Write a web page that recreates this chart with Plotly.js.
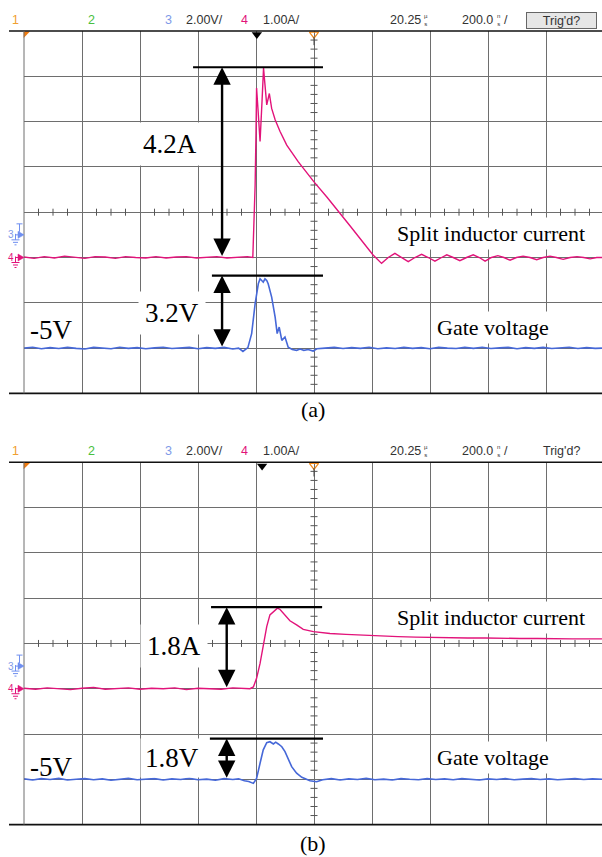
<!DOCTYPE html>
<html>
<head>
<meta charset="utf-8">
<script src="https://cdn.plot.ly/plotly-3.0.1.min.js"></script>
<style>html,body{margin:0;padding:0;background:#fff;}#plot{width:602px;height:857px;}</style>
</head>
<body>
<div id="plot"></div>
<script>
// ---------- DATA (time in ns from left edge of screen; 200 ns/div) ----------
// Panel (a): split inductor current (A, 1 A/div)
const tCurA = [0,35,70,105,140,175,210,245,280,315,350,385,420,455,490,525,560,595,630,665,700,735,770,789,797,800,802,807,814,821,826,831,837,846,854,866,883,906,946,1000,1045,1124,1203,1233,1256,1279,1302,1325,1348,1371,1394,1417,1440,1458,1480,1503,1526,1549,1570,1590,1612,1634,1655,1676,1698,1721,1745,1768,1790,1814,1836,1859,1883,1907,1930,1952,1975,1993];
const iCurA = [0.01,-0.02,0.02,-0.01,0.03,0.0,-0.02,0.02,0.01,-0.02,0.02,0.0,-0.01,0.02,-0.01,0.01,0.02,-0.01,0.01,0.02,-0.01,0.01,0.02,0.0,1.60,2.75,3.74,3.26,2.56,3.48,4.18,3.81,3.37,3.62,3.29,3.04,2.78,2.48,2.11,1.67,1.33,0.70,0.06,-0.13,0.0,0.09,0.0,-0.09,0.0,0.07,0.0,-0.08,0.0,0.06,0.0,-0.07,0.0,0.06,0.0,-0.08,0.0,0.04,0.0,-0.06,0.0,0.03,0.0,-0.05,0.0,0.03,0.0,-0.04,0.0,0.02,0.0,-0.03,0.0,0.0];
// Panel (a): gate voltage (V, 2 V/div)
const tGateA = [0,30,60,90,120,150,180,210,240,270,300,330,360,390,420,450,480,510,540,570,600,630,660,690,720,740,755,772,785,797,808,814,825,831,837,842,854,866,873,880,889,900,911,925,940,952,965,980,997,1010,1038,1070,1100,1130,1160,1190,1220,1250,1280,1310,1340,1370,1400,1430,1460,1490,1520,1550,1580,1610,1640,1670,1700,1730,1760,1790,1820,1850,1880,1910,1940,1970,1993];
const vGateA = [-5.0,-4.96,-5.03,-4.98,-5.02,-4.97,-5.01,-5.04,-4.97,-5.0,-5.03,-4.96,-5.01,-4.98,-5.03,-4.99,-4.96,-5.02,-5.0,-4.97,-5.03,-4.98,-5.01,-4.97,-5.04,-5.0,-5.15,-4.98,-4.36,-3.04,-2.16,-1.94,-2.09,-1.94,-2.01,-2.16,-2.75,-3.63,-4.36,-4.07,-4.66,-4.51,-4.96,-5.06,-5.1,-5.04,-5.1,-5.06,-5.13,-5.03,-5.0,-4.97,-5.02,-4.98,-5.01,-4.96,-5.03,-4.99,-5.02,-4.97,-5.01,-4.98,-5.03,-4.97,-5.0,-5.02,-4.97,-5.01,-4.96,-5.02,-4.99,-4.97,-5.03,-4.98,-5.01,-4.97,-5.02,-4.99,-4.96,-5.02,-4.98,-5.01,-5.0];
// Panel (b): split inductor current
const tCurB = [0,40,80,120,160,200,240,280,320,360,400,440,480,520,560,600,640,680,720,760,779,791,802,814,825,837,848,866,874,883,900,917,940,963,998,1055,1110,1170,1228,1290,1350,1410,1469,1530,1590,1650,1710,1770,1830,1890,1950,1993];
const iCurB = [0.01,-0.01,0.02,0.0,-0.02,0.01,0.03,-0.01,0.0,0.02,-0.01,0.01,0.0,0.02,-0.02,0.01,0.0,-0.01,0.02,0.0,0.0,0.04,0.23,0.56,0.96,1.37,1.63,1.75,1.78,1.75,1.63,1.50,1.41,1.31,1.26,1.22,1.20,1.18,1.16,1.15,1.14,1.13,1.13,1.12,1.12,1.11,1.11,1.11,1.10,1.10,1.10,1.10];
// Panel (b): gate voltage
const tGateB = [0,30,60,90,120,150,180,210,240,270,300,330,360,390,420,450,480,510,540,570,600,630,660,690,720,740,760,775,791,802,814,825,837,848,860,868,877,889,900,911,923,940,958,986,1009,1030,1060,1090,1120,1150,1180,1210,1240,1270,1300,1330,1360,1390,1420,1450,1480,1510,1540,1570,1600,1630,1660,1690,1720,1750,1780,1810,1840,1870,1900,1930,1960,1993];
const vGateB = [-4.98,-5.03,-4.97,-5.01,-4.96,-5.03,-5.0,-4.97,-5.02,-4.98,-5.04,-4.99,-4.96,-5.02,-5.0,-4.97,-5.03,-4.98,-5.01,-4.96,-5.02,-4.99,-5.04,-4.97,-5.01,-4.98,-5.06,-5.1,-5.18,-4.96,-4.29,-3.70,-3.38,-3.34,-3.44,-3.36,-3.44,-3.56,-3.78,-4.07,-4.44,-4.73,-4.91,-5.06,-5.11,-5.02,-4.97,-5.03,-4.98,-5.01,-4.96,-5.02,-4.99,-5.03,-4.97,-5.0,-5.02,-4.97,-5.01,-4.98,-5.02,-4.97,-5.0,-5.03,-4.98,-5.01,-4.97,-5.02,-4.99,-4.97,-5.01,-4.98,-5.02,-4.99,-4.97,-5.01,-4.98,-5.0];

// Annotated peak values
const peakCurA = 4.2, peakGateA = -5 + 3.2;
const peakCurB = 1.8, peakGateB = -5 + 1.8;
const labelsA = {cur: "4.2A", gate: "3.2V", base: "-5V"};
const labelsB = {cur: "1.8A", gate: "1.8V", base: "-5V"};
const header = {ch1: "1", ch2: "2", ch3: "3", v3: "2.00V/", ch4: "4", v4: "1.00A/", pos: "20.25", tb: "200.0", trig: "Trig'd?"};

// ---------- LAYOUT HELPERS ----------
const W = 602, H = 857;
const px = x => x / W;
const py = y => 1 - y / H;
const PINK = '#e2137a', BLUE = '#4668d8', GRID = '#6e6e6e', CH3 = '#6f8ff0';
const XMAX = (W - 24) / 58 * 200;
const DIV = 45.3; // px per vertical division

function xax(anchor) {
  return {domain: [px(24), 1], range: [0, XMAX], anchor: anchor, tick0: 0, dtick: 200,
    showgrid: true, gridcolor: GRID, gridwidth: 1, zeroline: false, showline: false,
    showticklabels: false, ticks: '', fixedrange: true};
}
function yax(dom, anchor) {
  return {domain: dom, range: [-3, 5], anchor: anchor, tick0: 0, dtick: 1,
    showgrid: true, gridcolor: GRID, gridwidth: 1, zeroline: false, showline: false,
    showticklabels: false, ticks: '', fixedrange: true};
}
function yovl(over, anchor) {
  return {overlaying: over, anchor: anchor, range: [-7, 9], visible: false, showgrid: false, zeroline: false, fixedrange: true};
}

const traces = [];
function minorTicks(xa, ya) {
  const hx = [], hy = [], vx = [], vy = [];
  for (let t = 0; t <= XMAX; t += 50) { if (t % 200 !== 0) { hx.push(t); hy.push(1); } }
  for (let k = -15; k <= 25; k++) { if (k % 5 !== 0) { vx.push(1000); vy.push(k / 5); } }
  traces.push({x: hx, y: hy, xaxis: xa, yaxis: ya, mode: 'markers', hoverinfo: 'skip', showlegend: false,
    marker: {symbol: 'line-ns', size: 5, line: {width: 1, color: '#555'}}});
  traces.push({x: vx, y: vy, xaxis: xa, yaxis: ya, mode: 'markers', hoverinfo: 'skip', showlegend: false,
    marker: {symbol: 'line-ew', size: 5, line: {width: 1, color: '#555'}}});
}
function topMarkers(xa, ya, trigT) {
  traces.push({x: [trigT], y: [4.92], xaxis: xa, yaxis: ya, mode: 'markers', hoverinfo: 'skip', showlegend: false, cliponaxis: false,
    marker: {symbol: 'triangle-down', size: 9, color: '#000'}});
  traces.push({x: [1000], y: [4.93], xaxis: xa, yaxis: ya, mode: 'markers', hoverinfo: 'skip', showlegend: false, cliponaxis: false,
    marker: {symbol: 'triangle-down-open', size: 8, color: '#f08a1c', line: {width: 1.2, color: '#f08a1c'}}});
  traces.push({x: [1000], y: [4.78], xaxis: xa, yaxis: ya, mode: 'markers', hoverinfo: 'skip', showlegend: false, cliponaxis: false,
    marker: {symbol: 'line-ns', size: 6, line: {width: 1, color: '#444'}}});
  traces.push({x: [6], y: [4.94], xaxis: xa, yaxis: ya, mode: 'markers', hoverinfo: 'skip', showlegend: false, cliponaxis: false,
    marker: {symbol: 'triangle-nw', size: 7, color: '#f07c10'}});
}

// grid decorations first
minorTicks('x', 'y');
minorTicks('x2', 'y3');
// waveforms
traces.push({x: tCurA, y: iCurA, xaxis: 'x', yaxis: 'y', mode: 'lines', line: {color: PINK, width: 1.4}, hoverinfo: 'skip', showlegend: false});
traces.push({x: tGateA, y: vGateA, xaxis: 'x', yaxis: 'y2', mode: 'lines', line: {color: BLUE, width: 1.6}, hoverinfo: 'skip', showlegend: false});
traces.push({x: tCurB, y: iCurB, xaxis: 'x2', yaxis: 'y3', mode: 'lines', line: {color: PINK, width: 1.4}, hoverinfo: 'skip', showlegend: false});
traces.push({x: tGateB, y: vGateB, xaxis: 'x2', yaxis: 'y4', mode: 'lines', line: {color: BLUE, width: 1.6}, hoverinfo: 'skip', showlegend: false});
topMarkers('x', 'y', 803);
topMarkers('x2', 'y3', 821);

// ---------- SHAPES ----------
const shapes = [];
function frame(ya) {
  const yd = ya + ' domain';
  shapes.push({type: 'line', xref: 'paper', yref: yd, x0: px(9), x1: 1, y0: 1, y1: 1, line: {color: '#111', width: 1.6}});
  shapes.push({type: 'line', xref: 'paper', yref: yd, x0: px(9), x1: 1, y0: 0, y1: 0, line: {color: '#111', width: 1.6}});
  shapes.push({type: 'line', xref: 'paper', yref: yd, x0: px(24), x1: px(24), y0: 0, y1: 1, line: {color: GRID, width: 1}});
}
frame('y'); frame('y3');
function peakLine(xa, ya, x0, x1, y) {
  shapes.push({type: 'line', xref: xa, yref: ya, x0: x0, x1: x1, y0: y, y1: y, line: {color: '#000', width: 2.2}});
}
peakLine('x', 'y', 583, 1031, peakCurA);
peakLine('x', 'y2', 648, 1031, peakGateA);
peakLine('x2', 'y3', 645, 1028, peakCurB);
peakLine('x2', 'y4', 641, 1031, peakGateB);

// channel ground markers (level 0 of each channel), u = data units per pixel
function groundMarker(yref, u, color, withT) {
  const X = v => px(v).toFixed(5);
  const Y = d => (-d * u).toFixed(4); // d pixels below level 0
  shapes.push({type: 'path', xref: 'paper', yref: yref, path: `M${X(18)},${Y(-3.5)} L${X(24)},${Y(0)} L${X(18)},${Y(3.5)} Z`,
    fillcolor: color, line: {color: color, width: 0.5}});
  shapes.push({type: 'path', xref: 'paper', yref: yref,
    path: `M${X(15.5)},${Y(-1)} L${X(15.5)},${Y(5)} M${X(11.5)},${Y(5)} L${X(19.5)},${Y(5)} M${X(13)},${Y(7.5)} L${X(18)},${Y(7.5)} M${X(14.5)},${Y(10)} L${X(16.5)},${Y(10)} M${X(15.5)},${Y(0)} L${X(18)},${Y(0)}`,
    line: {color: color, width: 1}});
  if (withT) {
    shapes.push({type: 'path', xref: 'paper', yref: yref,
      path: `M${X(19.5)},${Y(-3)} L${X(19.5)},${Y(-11)} M${X(16.5)},${Y(-11)} L${X(22.5)},${Y(-11)}`,
      line: {color: color, width: 1}});
  }
}
groundMarker('y2', 2 / DIV, CH3, true);
groundMarker('y', 1 / DIV, PINK, false);
groundMarker('y4', 2 / DIV, CH3, true);
groundMarker('y3', 1 / DIV, PINK, false);

// ---------- ANNOTATIONS ----------
const ann = [];
const SERIF = 'Liberation Serif, Times New Roman, serif';
const SANS = 'Liberation Sans, Arial, sans-serif';
function dblArrow(xa, ya, xv, y0, y1) {
  ann.push({xref: xa, yref: ya, x: xv, y: y1, axref: xa, ayref: ya, ax: xv, ay: y0, text: '', showarrow: true,
    arrowhead: 2, startarrowhead: 2, arrowside: 'end+start', arrowwidth: 2.4, arrowsize: 1.45, startarrowsize: 1.45, arrowcolor: '#000', standoff: 0, startstandoff: 0});
}
dblArrow('x', 'y', 683, 0, peakCurA);
dblArrow('x', 'y2', 683, -5, peakGateA);
dblArrow('x2', 'y3', 699, 0, peakCurB);
dblArrow('x2', 'y4', 699, -5, peakGateB);

function label(text, x, y, size, bg, pad) {
  ann.push({xref: 'paper', yref: 'paper', x: px(x), y: py(y), xanchor: 'center', yanchor: 'middle', text: text, showarrow: false,
    font: {family: SERIF, size: size, color: '#000'}, bgcolor: bg ? '#fff' : 'rgba(0,0,0,0)', borderpad: pad || 0});
}
label(labelsA.cur, 170, 144, 27, true, 6);
label(labelsA.gate, 172, 313, 27, true, 6);
label(labelsA.base, 51, 330, 27, false);
label('Split inductor current', 491, 233, 22, true, 3);
label('Gate voltage', 493, 328, 22, true, 3);
label('(a)', 313, 410, 22, false);
label(labelsB.cur, 174, 646, 27, true, 6);
label(labelsB.gate, 172, 758, 27, true, 4);
label(labelsB.base, 51, 767, 27, false);
label('Split inductor current', 491, 617, 22, true, 3);
label('Gate voltage', 493, 757, 22, true, 3);
label('(b)', 313, 843, 22, false);

function htext(t, x, yc, c, anchor, size) {
  ann.push({xref: 'paper', yref: 'paper', x: px(x), y: py(yc), xanchor: anchor, yanchor: 'middle', text: t, showarrow: false,
    font: {family: SANS, size: size, color: c}, borderpad: 0});
}
function headerRow(yc, boxed) {
  htext(header.ch1, 15.5, yc, '#f0a030', 'center', 12.5);
  htext(header.ch2, 91.5, yc, '#48c040', 'center', 12.5);
  htext(header.ch3, 168, yc, '#7f9ae8', 'center', 12.5);
  htext(header.v3, 185, yc, '#333', 'left', 12.5);
  htext(header.ch4, 244, yc, PINK, 'center', 12.5);
  htext(header.v4, 262, yc, '#333', 'left', 12.5);
  htext(header.pos, 389, yc, '#333', 'left', 12.5);
  htext('µ<br>s', 423, yc, '#333', 'left', 6);
  htext(header.tb, 461, yc, '#333', 'left', 12.5);
  htext('n<br>s', 496, yc, '#333', 'left', 6);
  htext('/', 503, yc, '#333', 'left', 12.5);
  if (boxed) {
    ann.push({xref: 'paper', yref: 'paper', x: px(561.5), y: py(yc), xanchor: 'center', yanchor: 'middle', text: header.trig, showarrow: false,
      font: {family: SANS, size: 12.5, color: '#333'}, bgcolor: '#e6e6e6', bordercolor: '#666', borderwidth: 1, borderpad: 0, width: 69, height: 15});
  } else {
    htext(header.trig, 561.5, yc, '#333', 'center', 12.5);
  }
}
headerRow(20.5, true);
headerRow(451, false);
// channel labels "3" and "4" at their ground levels
[['y', 'y2'], ['y3', 'y4']].forEach(([yc, yv]) => {
  ann.push({xref: 'paper', yref: yv, x: px(10.5), y: 0, xanchor: 'center', yanchor: 'middle', text: '3', showarrow: false, font: {family: SANS, size: 10, color: '#7f9ae8'}});
  ann.push({xref: 'paper', yref: yc, x: px(10.5), y: 0, xanchor: 'center', yanchor: 'middle', text: '4', showarrow: false, font: {family: SANS, size: 10, color: PINK}});
});

const layout = {
  width: W, height: H, margin: {l: 0, r: 0, t: 0, b: 0}, paper_bgcolor: '#fff', plot_bgcolor: '#fff', showlegend: false,
  xaxis: xax('y'), yaxis: yax([py(393.4), py(31)], 'x'), yaxis2: yovl('y', 'x'),
  xaxis2: xax('y3'), yaxis3: yax([py(824.6), py(462.3)], 'x2'), yaxis4: yovl('y3', 'x2'),
  shapes: shapes, annotations: ann
};
Plotly.newPlot('plot', traces, layout, {staticPlot: true, displayModeBar: false});
</script>
</body>
</html>
